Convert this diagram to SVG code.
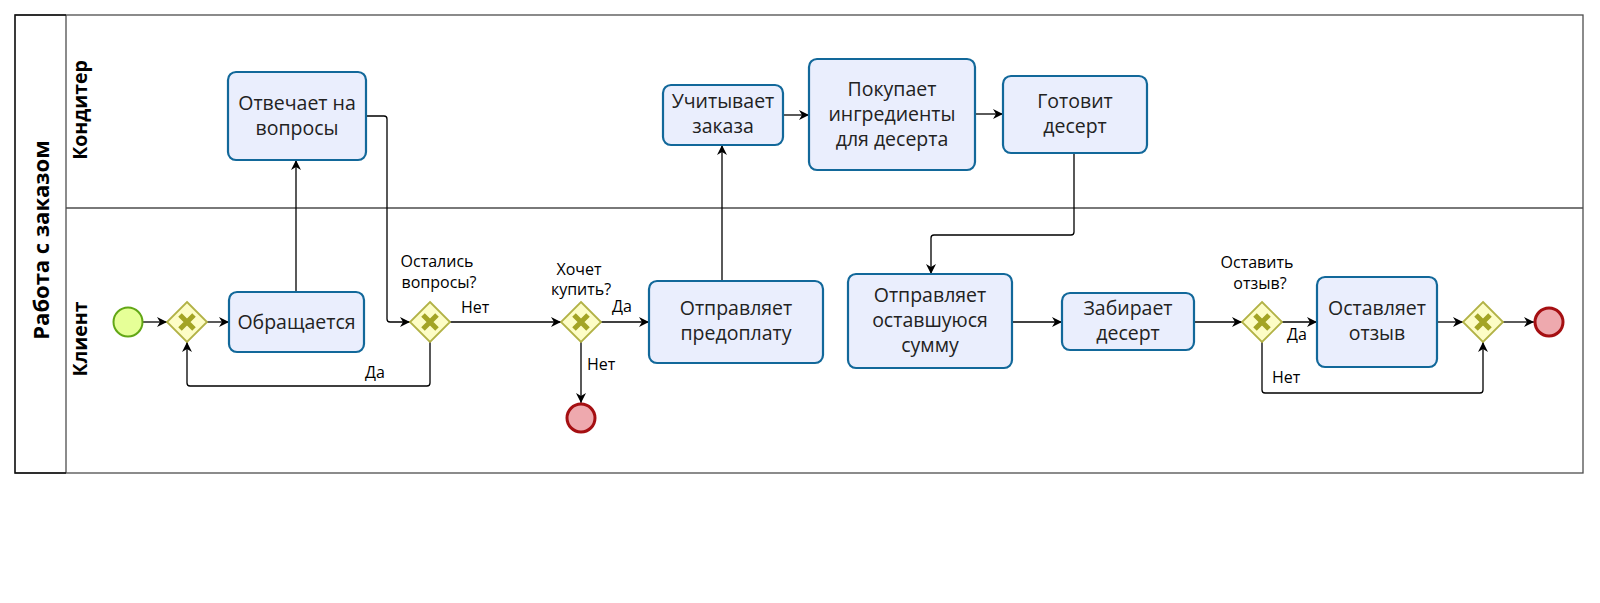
<svg xmlns="http://www.w3.org/2000/svg" width="1600" height="603" viewBox="0 0 1600 603">
<style>
.pool{fill:#fff;stroke:#4d4d4d;stroke-width:1.3}
.band{fill:none;stroke:#111;stroke-width:1.3}
.task{fill:#eaeefd;stroke:#12689a;stroke-width:2.2}
.gw{fill:#fdfdc6;stroke:#b2b246;stroke-width:1.8}
.gx{stroke:#a3a425;stroke-width:5;fill:none}
.start{fill:#e6ff97;stroke:#62a716;stroke-width:2}
.end{fill:#eea9ae;stroke:#a50f12;stroke-width:3}
.c{fill:none;stroke:#000;stroke-width:1.3;marker-end:url(#ah)}
.t{font-family:"Open Sans","Noto Sans","DejaVu Sans",sans-serif;font-size:19.5px;fill:#222;text-anchor:middle}
.l{font-family:"Open Sans","Noto Sans","DejaVu Sans",sans-serif;font-size:16px;fill:#000}
.h{font-family:"Open Sans","Noto Sans","DejaVu Sans",sans-serif;font-weight:bold;fill:#000;text-anchor:middle}
</style>
<defs>
<marker id="ah" viewBox="0 0 10 10" refX="10" refY="5" markerWidth="10" markerHeight="10" markerUnits="userSpaceOnUse" orient="auto">
<path d="M0,0 L10,5 L0,10 L3,5 z" fill="#000"/>
</marker>
</defs>
<g id="pool">
<rect class="pool" x="15" y="15" width="1568" height="458"/>
<line class="pool" x1="66" y1="15" x2="66" y2="473"/>
<line class="pool" x1="66" y1="208" x2="1583" y2="208"/>
<path class="band" d="M66,15 H15 V473 H66"/>
<text class="h" font-size="22" transform="translate(49,240) rotate(-90)">Работа с заказом</text>
</g>
<g id="lane-konditer"><text class="h" font-size="19.5" transform="translate(87,110) rotate(-90)">Кондитер</text></g>
<g id="lane-klient"><text class="h" font-size="19.5" transform="translate(87,339) rotate(-90)">Клиент</text></g>
<g id="connectors">
<path class="c" d="M143,322 H167"/>
<path class="c" d="M207,322 H229"/>
<path class="c" d="M296,292 V160"/>
<path class="c" d="M366,116 H384 Q387,116 387,119 V319 Q387,322 390,322 H410"/>
<path class="c" d="M450,322 H561"/>
<path class="c" d="M430,342 V383 Q430,386 427,386 H190 Q187,386 187,383 V342"/>
<path class="c" d="M601,322 H649"/>
<path class="c" d="M581,342 V403"/>
<path class="c" d="M722,281 V145"/>
<path class="c" d="M783,115 H809"/>
<path class="c" d="M975,114 H1003"/>
<path class="c" d="M1074,153 V232 Q1074,235 1071,235 H934 Q931,235 931,238 V274"/>
<path class="c" d="M1012,322 H1062"/>
<path class="c" d="M1194,322 H1242"/>
<path class="c" d="M1282,322 H1317"/>
<path class="c" d="M1437,322 H1463"/>
<path class="c" d="M1262,342 V390 Q1262,393 1265,393 H1480 Q1483,393 1483,390 V342"/>
<path class="c" d="M1503,322 H1534"/>
<text class="l" x="461" y="313">Нет</text>
<text class="l" x="365" y="378">Да</text>
<text class="l" x="612" y="312">Да</text>
<text class="l" x="587" y="370">Нет</text>
<text class="l" x="1287" y="340">Да</text>
<text class="l" x="1272" y="383">Нет</text>
</g>
<g id="start"><circle class="start" cx="128" cy="322" r="14.5"/></g>
<g id="gw1"><path class="gw" d="M187,302 L207,322 L187,342 L167,322 z"/><path class="gx" d="M180,315 L194,329 M194,315 L180,329"/></g>
<g id="t-obr"><rect class="task" x="229" y="292" width="135" height="60" rx="8"/><text class="t" x="296.5" y="329">Обращается</text></g>
<g id="t-otv"><rect class="task" x="228" y="72" width="138" height="88" rx="8"/><text class="t" x="297" y="110">Отвечает на</text><text class="t" x="297" y="135">вопросы</text></g>
<g id="gw2"><path class="gw" d="M430,302 L450,322 L430,342 L410,322 z"/><path class="gx" d="M423,315 L437,329 M437,315 L423,329"/>
<text class="l" x="437" y="267" text-anchor="middle">Остались</text><text class="l" x="439" y="288" text-anchor="middle">вопросы?</text></g>
<g id="gw3"><path class="gw" d="M581,302 L601,322 L581,342 L561,322 z"/><path class="gx" d="M574,315 L588,329 M588,315 L574,329"/>
<text class="l" x="579" y="275" text-anchor="middle">Хочет</text><text class="l" x="581" y="295" text-anchor="middle">купить?</text></g>
<g id="end1"><circle class="end" cx="581" cy="418" r="14"/></g>
<g id="t-pred"><rect class="task" x="649" y="281" width="174" height="82" rx="8"/><text class="t" x="736" y="315">Отправляет</text><text class="t" x="736" y="340">предоплату</text></g>
<g id="t-uch"><rect class="task" x="663" y="85" width="120" height="60" rx="8"/><text class="t" x="723" y="108">Учитывает</text><text class="t" x="723" y="133">заказа</text></g>
<g id="t-pok"><rect class="task" x="809" y="59" width="166" height="111" rx="8"/><text class="t" x="892" y="96">Покупает</text><text class="t" x="892" y="121">ингредиенты</text><text class="t" x="892" y="146">для десерта</text></g>
<g id="t-got"><rect class="task" x="1003" y="76" width="144" height="77" rx="8"/><text class="t" x="1075" y="108">Готовит</text><text class="t" x="1075" y="133">десерт</text></g>
<g id="t-ost"><rect class="task" x="848" y="274" width="164" height="94" rx="8"/><text class="t" x="930" y="302">Отправляет</text><text class="t" x="930" y="327">оставшуюся</text><text class="t" x="930" y="352">сумму</text></g>
<g id="t-zab"><rect class="task" x="1062" y="293" width="132" height="57" rx="8"/><text class="t" x="1128" y="315">Забирает</text><text class="t" x="1128" y="340">десерт</text></g>
<g id="gw4"><path class="gw" d="M1262,302 L1282,322 L1262,342 L1242,322 z"/><path class="gx" d="M1255,315 L1269,329 M1269,315 L1255,329"/>
<text class="l" x="1257" y="268" text-anchor="middle">Оставить</text><text class="l" x="1260" y="289" text-anchor="middle">отзыв?</text></g>
<g id="t-otz"><rect class="task" x="1317" y="277" width="120" height="90" rx="8"/><text class="t" x="1377" y="315">Оставляет</text><text class="t" x="1377" y="340">отзыв</text></g>
<g id="gw5"><path class="gw" d="M1483,302 L1503,322 L1483,342 L1463,322 z"/><path class="gx" d="M1476,315 L1490,329 M1490,315 L1476,329"/></g>
<g id="end2"><circle class="end" cx="1549" cy="322" r="14"/></g>
</svg>
